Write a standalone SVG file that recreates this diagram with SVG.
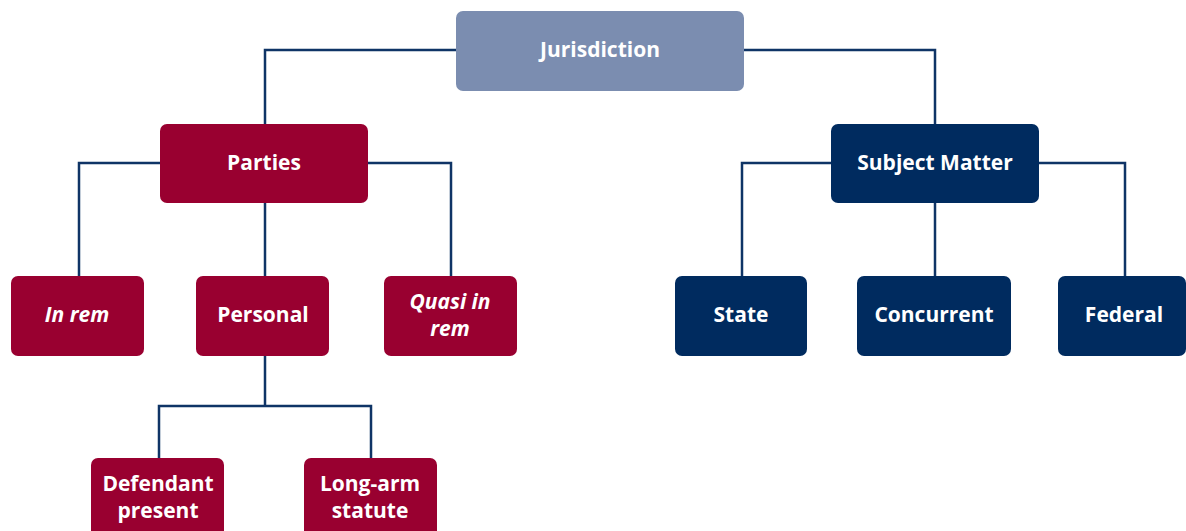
<svg xmlns="http://www.w3.org/2000/svg" width="1186" height="531" viewBox="0 0 1186 531">
  <style>
    .root { fill: #7b8db0; }
    .red { fill: #990030; }
    .navy { fill: #002b5f; }
    .lbl { font-family: "Open Sans", "Liberation Sans", sans-serif; font-weight: 700; font-size: 21px; fill: #ffffff; text-anchor: middle; }
    .it { font-style: italic; }
    .wire { fill: none; stroke: #0f3466; stroke-width: 2.5; }
  </style>
  <rect width="1186" height="531" fill="#ffffff"/>

  <!-- connectors -->
  <g id="connectors" class="wire">
    <path d="M456 50 H265 V124"/>
    <path d="M744 50 H935 V124"/>
    <path d="M160 163 H79 V276"/>
    <path d="M265 203 V276"/>
    <path d="M367 163 H451 V276"/>
    <path d="M265 356 V406 M159 458 V406 H371 V458"/>
    <path d="M831 163 H742 V276"/>
    <path d="M935 203 V276"/>
    <path d="M1039 163 H1125 V276"/>
  </g>

  <!-- nodes -->
  <g id="jurisdiction">
    <rect class="root" x="456" y="11" width="288" height="80" rx="7"/>
    <text class="lbl" x="600" y="57">Jurisdiction</text>
  </g>
  <g id="parties">
    <rect class="red" x="160" y="124" width="208" height="79" rx="7"/>
    <text class="lbl" x="264" y="170">Parties</text>
  </g>
  <g id="subject-matter">
    <rect class="navy" x="831" y="124" width="208" height="79" rx="7"/>
    <text class="lbl" x="935" y="170">Subject Matter</text>
  </g>
  <g id="in-rem">
    <rect class="red" x="11" y="276" width="133" height="80" rx="7"/>
    <text class="lbl it" x="77" y="322">In rem</text>
  </g>
  <g id="personal">
    <rect class="red" x="196" y="276" width="133" height="80" rx="7"/>
    <text class="lbl" x="263" y="322">Personal</text>
  </g>
  <g id="quasi-in-rem">
    <rect class="red" x="384" y="276" width="133" height="80" rx="7"/>
    <text class="lbl it" x="450" y="309">Quasi in</text>
    <text class="lbl it" x="450" y="336">rem</text>
  </g>
  <g id="state">
    <rect class="navy" x="675" y="276" width="132" height="80" rx="7"/>
    <text class="lbl" x="741" y="322">State</text>
  </g>
  <g id="concurrent">
    <rect class="navy" x="857" y="276" width="154" height="80" rx="7"/>
    <text class="lbl" x="934" y="322">Concurrent</text>
  </g>
  <g id="federal">
    <rect class="navy" x="1058" y="276" width="128" height="80" rx="7"/>
    <text class="lbl" x="1124" y="322">Federal</text>
  </g>
  <g id="defendant-present">
    <rect class="red" x="91" y="458" width="133" height="80" rx="7"/>
    <text class="lbl" x="158" y="491">Defendant</text>
    <text class="lbl" x="158" y="518">present</text>
  </g>
  <g id="long-arm-statute">
    <rect class="red" x="304" y="458" width="133" height="80" rx="7"/>
    <text class="lbl" x="370" y="491">Long-arm</text>
    <text class="lbl" x="370" y="518">statute</text>
  </g>
</svg>
